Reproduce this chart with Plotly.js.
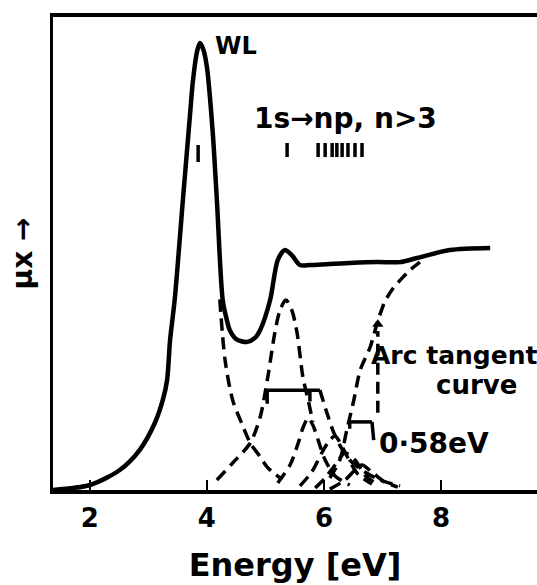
<!DOCTYPE html>
<html>
<head>
<meta charset="utf-8">
<script src="https://cdn.plot.ly/plotly-3.0.1.min.js"></script>
<style>html,body{margin:0;padding:0;background:#fff;}#plot{width:537px;height:585px;}</style>
</head>
<body>
<div id="plot"></div>
<script>
// Measured spectrum (energy in eV, absorption μx in units of the step height)
const mainE = [1.37, 2.0, 2.51, 2.85, 3.11, 3.25, 3.32, 3.37, 3.45, 3.59, 3.71, 3.76, 3.83, 3.88, 3.94, 4.0, 4.10, 4.17, 4.27, 4.34, 4.39, 4.50, 4.68, 4.82, 4.91, 5.08, 5.21, 5.33, 5.45, 5.59, 5.76, 6.10, 6.44, 6.91, 7.30, 7.59, 8.15, 8.84];
const mainY = [0.0, 0.022, 0.088, 0.176, 0.295, 0.40, 0.485, 0.66, 0.84, 1.28, 1.65, 1.80, 1.93, 1.969, 1.94, 1.863, 1.573, 1.278, 0.837, 0.749, 0.705, 0.665, 0.652, 0.67, 0.705, 0.837, 1.013, 1.057, 1.035, 0.991, 0.991, 0.996, 1.0, 1.004, 1.004, 1.022, 1.057, 1.066];

// Fitted components (dashed)
const wlTailE = [4.22, 4.31, 4.44, 4.60, 4.74, 4.90, 5.03, 5.25];
const wlTailY = [0.84, 0.573, 0.396, 0.29, 0.207, 0.15, 0.101, 0.053];

const p3E = [4.17, 4.44, 4.74, 4.91, 5.04, 5.16, 5.25, 5.35, 5.45, 5.54, 5.64, 5.73, 5.81];
const p3Y = [0.044, 0.119, 0.207, 0.322, 0.498, 0.692, 0.793, 0.837, 0.793, 0.692, 0.498, 0.396, 0.30];

const p3bE = [5.93, 6.05, 6.15, 6.27, 6.44, 6.70, 6.96, 7.30];
const p3bY = [0.44, 0.34, 0.264, 0.198, 0.132, 0.079, 0.044, 0.018];

const pAE = [5.21, 5.42, 5.56, 5.64, 5.73, 5.81, 5.90, 6.02, 6.19, 6.44];
const pAY = [0.031, 0.11, 0.207, 0.273, 0.317, 0.286, 0.22, 0.132, 0.062, 0.022];

const pBE = [5.59, 5.79, 5.97, 6.10, 6.19, 6.27, 6.41, 6.58, 6.82];
const pBY = [0.018, 0.079, 0.167, 0.22, 0.238, 0.211, 0.141, 0.07, 0.026];

const pCE = [5.85, 6.02, 6.19, 6.36, 6.53, 6.70, 6.92];
const pCY = [0.009, 0.053, 0.11, 0.163, 0.132, 0.066, 0.022];

const pDE = [6.10, 6.36, 6.53, 6.65, 6.82, 7.04, 7.26];
const pDY = [0.004, 0.044, 0.088, 0.11, 0.079, 0.035, 0.013];

const atanE = [6.10, 6.27, 6.39, 6.51, 6.62, 6.79, 6.91, 7.03, 7.16, 7.35, 7.47, 7.64];
const atanY = [0.053, 0.132, 0.264, 0.396, 0.529, 0.63, 0.736, 0.824, 0.881, 0.938, 0.969, 1.004];

// Markers
const markE = [6.92, 6.92];
const markY = [0.34, 0.70];
const fwhmE = [5.03, 5.03, null, 5.03, 5.93, null, 5.76, 5.76];
const fwhmY = [0.38, 0.44, null, 0.44, 0.44, null, 0.44, 0.39];
const barE = [6.44, 6.44, null, 6.44, 6.82, null, 6.82, 6.85];
const barY = [0.27, 0.30, null, 0.30, 0.30, null, 0.30, 0.22];

// Transition energies 1s -> np
const wlTickE = [3.85, 3.85];
const wlTickY = [1.445, 1.52];
const rydE = [5.37, 5.90, 6.02, 6.14, 6.22, 6.31, 6.41, 6.53, 6.65];
const rydLo = 1.467, rydHi = 1.529;

const tickVals = [2, 4, 6, 8];
const tickText = ['2', '4', '6', '8'];

const black = '#000';
const dashStyle = '12px,7px';
const traces = [];
traces.push({x: mainE, y: mainY, mode: 'lines', line: {color: black, width: 4.5, shape: 'spline', smoothing: 0.8}});
[[wlTailE, wlTailY], [p3E, p3Y], [p3bE, p3bY], [pAE, pAY], [pBE, pBY], [pCE, pCY], [pDE, pDY], [atanE, atanY], [markE, markY]].forEach(function (c) {
  traces.push({x: c[0], y: c[1], mode: 'lines', line: {color: black, width: 3.5, dash: dashStyle, shape: 'spline', smoothing: 0.8}});
});
traces.push({x: [markE[1]], y: [markY[1] + 0.03], mode: 'markers', marker: {symbol: 'triangle-up', size: 10, color: black}});
traces.push({x: fwhmE, y: fwhmY, mode: 'lines', line: {color: black, width: 3.5}});
traces.push({x: barE, y: barY, mode: 'lines', line: {color: black, width: 3.5}});
traces.push({x: wlTickE, y: wlTickY, mode: 'lines', line: {color: black, width: 3.5}});
const rx = [], ry = [];
rydE.forEach(function (e) { rx.push(e, e, null); ry.push(rydLo, rydHi, null); });
traces.push({x: rx, y: ry, mode: 'lines', line: {color: black, width: 3.5}});
traces.forEach(function (t) { t.showlegend = false; t.hoverinfo = 'skip'; });

const F = 'DejaVu Sans, sans-serif';
const layout = {
  width: 537, height: 585,
  margin: {l: 53, r: 0, t: 17, b: 95},
  paper_bgcolor: '#fff', plot_bgcolor: '#fff',
  showlegend: false,
  xaxis: {
    range: [1.37, 9.64], showgrid: false, zeroline: false,
    showline: true, linewidth: 4, linecolor: black, mirror: true,
    ticks: 'inside', ticklen: 10, tickwidth: 2, tickcolor: black,
    tickvals: tickVals, ticktext: tickText, ticklabelstandoff: 2,
    tickfont: {family: F, size: 26, color: black, weight: 'bold'},
    title: {text: 'Energy [eV]', font: {family: F, size: 32, color: black, weight: 'bold'}, standoff: 22}
  },
  yaxis: {
    range: [0, 2.084], showgrid: false, zeroline: false,
    showline: true, linewidth: 3, linecolor: black, mirror: false,
    showticklabels: false, ticks: '',
    title: {text: 'μx →', font: {family: F, size: 28, color: black, weight: 'bold'}, standoff: 10}
  },
  annotations: [
    {text: 'WL', x: 4.10, y: 1.956, xref: 'x', yref: 'y', xanchor: 'left', yanchor: 'middle', showarrow: false, font: {family: F, size: 24, color: black, weight: 'bold'}},
    {text: '1s→np, n>3', x: 4.77, y: 1.639, xref: 'x', yref: 'y', xanchor: 'left', yanchor: 'middle', showarrow: false, font: {family: F, size: 28, color: black, weight: 'bold'}},
    {text: 'Arc tangent', x: 6.77, y: 0.591, xref: 'x', yref: 'y', xanchor: 'left', yanchor: 'middle', showarrow: false, font: {family: F, size: 25, color: black, weight: 'bold'}},
    {text: 'curve', x: 8.60, y: 0.461, xref: 'x', yref: 'y', xanchor: 'center', yanchor: 'middle', showarrow: false, font: {family: F, size: 26, color: black, weight: 'bold'}},
    {text: '0·58eV', x: 6.91, y: 0.203, xref: 'x', yref: 'y', xanchor: 'left', yanchor: 'middle', showarrow: false, font: {family: F, size: 28, color: black, weight: 'bold'}}
  ]
};
Plotly.newPlot('plot', traces, layout, {staticPlot: true, displayModeBar: false});
</script>
</body>
</html>
